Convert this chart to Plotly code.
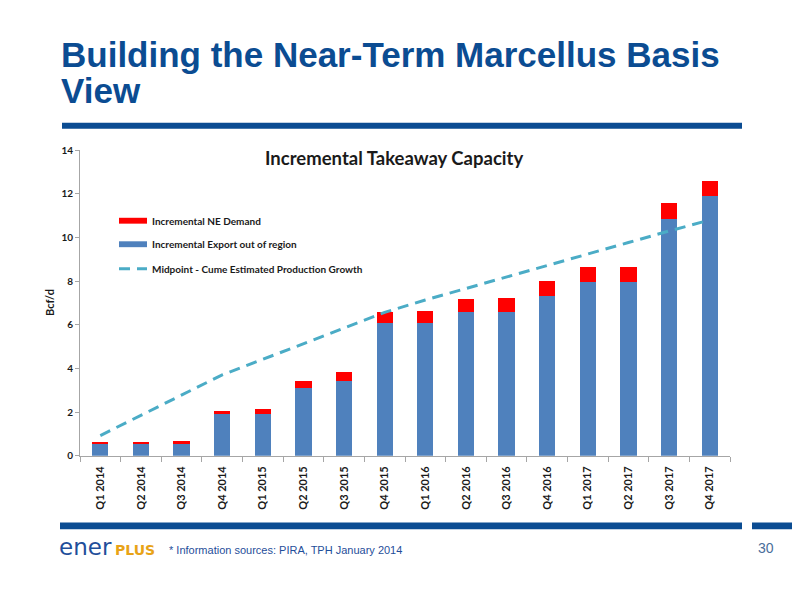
import plotly.graph_objects as go

# Données (Bcf/d)
quarters = ["Q1 2014", "Q2 2014", "Q3 2014", "Q4 2014",
            "Q1 2015", "Q2 2015", "Q3 2015", "Q4 2015",
            "Q1 2016", "Q2 2016", "Q3 2016", "Q4 2016",
            "Q1 2017", "Q2 2017", "Q3 2017", "Q4 2017"]
export_out = [0.55, 0.55, 0.55, 1.93, 1.91, 3.13, 3.43, 6.08,
              6.08, 6.60, 6.60, 7.34, 7.95, 7.95, 10.86, 11.89]
ne_demand = [0.05, 0.09, 0.12, 0.12, 0.24, 0.31, 0.41, 0.53,
             0.56, 0.58, 0.62, 0.66, 0.69, 0.69, 0.71, 0.70]
midpoint = [0.93, 1.85, 2.78, 3.71, 4.42, 5.13, 5.83, 6.57,
            7.14, 7.66, 8.19, 8.71, 9.25, 9.77, 10.30, 10.80]
y_ticks = [0, 2, 4, 6, 8, 10, 12, 14]

NAVY = "#0B4C92"
RED = "#FF0000"
BLUE = "#4F81BD"
TEAL = "#4BACC6"
TXT = "#1a1a1a"
LBL_FONT = "Lato"

# la page ajoute une marge de 8px : on travaille en pixels de la diapositive
W, H = 792, 592


def px(x):
    return (x - 8) / W


def py(y):
    return 1 - (y - 8) / H


fig = go.Figure()

fig.add_trace(go.Bar(
    x=quarters, y=export_out, name="Incremental Export out of region",
    marker=dict(color=BLUE, line=dict(width=0)),
))
fig.add_trace(go.Bar(
    x=quarters, y=ne_demand, name="Incremental NE Demand",
    marker=dict(color=RED, line=dict(width=0)),
))
fig.add_trace(go.Scatter(
    x=quarters, y=midpoint, mode="lines",
    name="Midpoint - Cume Estimated Production Growth",
    line=dict(color=TEAL, width=3, dash="11px,7px"),
))

fig.update_layout(
    width=W, height=H,
    margin=dict(l=0, r=0, t=0, b=0),
    paper_bgcolor="white", plot_bgcolor="white",
    barmode="stack", bargap=0.6,
    showlegend=False,
    font=dict(family=LBL_FONT),
)

fig.update_xaxes(
    domain=[px(80), px(730)],
    showline=True, linecolor="#A6A6A6", linewidth=1,
    ticks="outside", tickson="boundaries", ticklen=5, tickcolor="#A6A6A6",
    tickangle=-90, ticklabelstandoff=5,
    tickfont=dict(family=LBL_FONT, size=11, color=TXT, weight="bold"),
    showgrid=False,
)
fig.update_yaxes(
    domain=[py(459), py(147)], range=[0, 14],
    tickvals=y_ticks,
    showline=True, linecolor="#A6A6A6", linewidth=1,
    ticks="outside", ticklen=4, tickcolor="#A6A6A6",
    tickfont=dict(family=LBL_FONT, size=10, color=TXT, weight="bold"),
    showgrid=False, zeroline=False,
)

# titre de l'axe Y
fig.add_annotation(
    text="<b>Bcf/d</b>", textangle=-90,
    xref="paper", yref="paper", x=px(49), y=py(303),
    showarrow=False, xanchor="center", yanchor="middle",
    font=dict(family=LBL_FONT, size=11, color=TXT),
)

# titre du graphique
fig.add_annotation(
    text="<b>Incremental Takeaway Capacity</b>",
    xref="paper", yref="paper", x=px(394), y=py(155),
    showarrow=False, xanchor="center", yanchor="middle",
    font=dict(family=LBL_FONT, size=18.5, color=TXT),
)

# légende dessinée à la main (échantillons larges)
legend_items = [
    ("Incremental NE Demand", "bar", RED, 219),
    ("Incremental Export out of region", "bar", BLUE, 243),
    ("Midpoint - Cume Estimated Production Growth", "line", TEAL, 268),
]
for label, kind, color, yc in legend_items:
    if kind == "bar":
        fig.add_shape(type="rect", xref="paper", yref="paper",
                      x0=px(119), x1=px(147), y0=py(yc + 3), y1=py(yc - 3),
                      fillcolor=color, line=dict(width=0))
    else:
        fig.add_shape(type="line", xref="paper", yref="paper",
                      x0=px(119), x1=px(147), y0=py(yc), y1=py(yc),
                      line=dict(color=color, width=3, dash="11px,7px"))
    fig.add_annotation(
        text="<b>" + label + "</b>",
        xref="paper", yref="paper", x=px(150), y=py(yc),
        showarrow=False, xanchor="left", yanchor="middle",
        font=dict(family=LBL_FONT, size=10, color=TXT),
    )

# titre de la diapositive (deux lignes)
fig.add_annotation(
    text="<b>Building the Near-Term Marcellus Basis</b>",
    xref="paper", yref="paper", x=px(60), y=py(49),
    showarrow=False, xanchor="left", yanchor="middle", borderpad=0,
    font=dict(family="Liberation Sans", size=35, color=NAVY),
)
fig.add_annotation(
    text="<b>View</b>",
    xref="paper", yref="paper", x=px(60), y=py(86),
    showarrow=False, xanchor="left", yanchor="middle", borderpad=0,
    font=dict(family="Liberation Sans", size=35, color=NAVY),
)

# filets bleus
for x0, x1, y0, y1 in [(62, 742, 119, 125), (60, 742, 527, 534), (752, 808, 527, 534)]:
    fig.add_shape(type="rect", xref="paper", yref="paper",
                  x0=px(x0), x1=px(x1), y0=py(y1), y1=py(y0),
                  fillcolor=NAVY, line=dict(width=0), layer="below")

# pied de page
fig.add_annotation(
    text="<span style='color:#1F4E9A'>ener</span>",
    xref="paper", yref="paper", x=px(57), y=py(552),
    showarrow=False, xanchor="left", yanchor="middle",
    font=dict(family="DejaVu Sans", size=23),
)
fig.add_annotation(
    text="<b><span style='color:#E8A317'>PLUS</span></b>",
    xref="paper", yref="paper", x=px(113), y=py(555),
    showarrow=False, xanchor="left", yanchor="middle",
    font=dict(family="DejaVu Sans", size=14),
)
fig.add_annotation(
    text="* Information sources: PIRA, TPH January 2014",
    xref="paper", yref="paper", x=px(167), y=py(555),
    showarrow=False, xanchor="left", yanchor="middle",
    font=dict(family="Liberation Sans Narrow, Liberation Sans", size=11, color="#1F4E9A"),
)
fig.add_annotation(
    text="30",
    xref="paper", yref="paper", x=px(766), y=py(553),
    showarrow=False, xanchor="center", yanchor="middle",
    font=dict(family="Liberation Sans Narrow, Liberation Sans", size=14, color="#4A6E9A"),
)

fig.write_html("out.html")
